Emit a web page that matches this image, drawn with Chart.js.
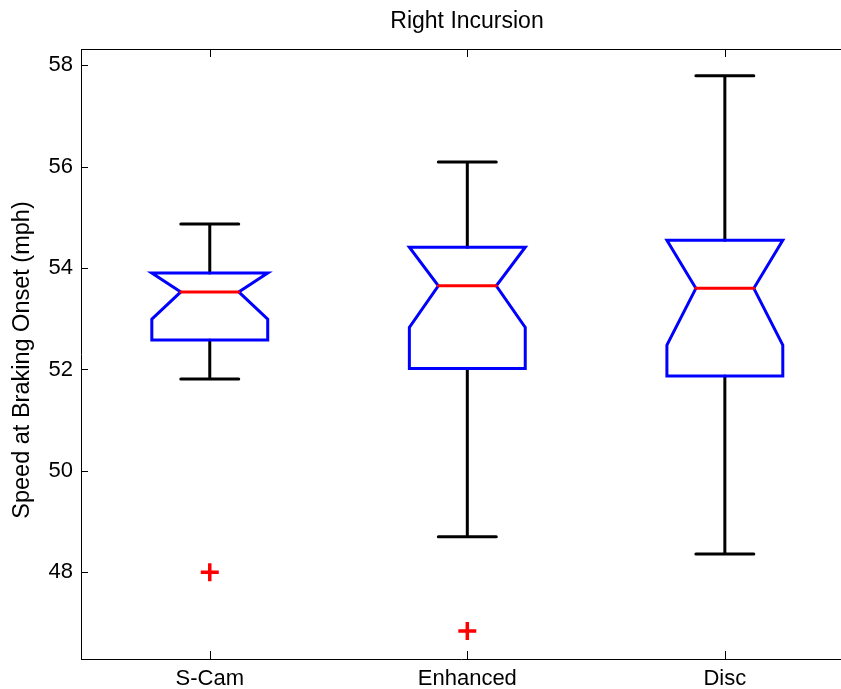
<!DOCTYPE html>
<html>
<head>
<meta charset="utf-8">
<script src="https://cdn.jsdelivr.net/npm/chart.js"></script>
<style>
  body { margin: 0; background: #fff; }
  canvas { display: block; }
</style>
</head>
<body>
<canvas id="mycanvas" width="841" height="689"></canvas>
<script>
// box plot values
var categories = ['S-Cam', 'Enhanced', 'Disc']
var lowerWhisker = [51.81, 48.70, 48.36]
var q1 = [52.58, 52.02, 51.87]
var medians = [53.53, 53.65, 53.60]
var q3 = [53.90, 54.41, 54.55]
var upperWhisker = [54.87, 56.09, 57.79]
var notchLow = [52.99, 52.83, 52.48]
var notchHigh = [53.90, 54.41, 54.55]
var outliers = [[48.0], [46.84], []]
var yTicks = [48, 50, 52, 54, 56, 58]

var FONT = "'Liberation Sans', Arial, sans-serif"

var outlierPoints = []
outliers.forEach(function(list, i) {
    list.forEach(function(v) { outlierPoints.push({x: i + 1, y: v}) })
})

var boxPlugin = {
    id: 'boxes',
    afterDatasetsDraw: function(chart) {
        var ctx = chart.ctx
        var xs = chart.scales.x
        var ys = chart.scales.y
        var boxHalf = 0.225, notchHalf = 0.1125, capHalf = 0.1125

        ctx.save()
        ctx.lineJoin = 'miter'
        ctx.lineCap = 'round'
        ctx.lineWidth = 3

        for (var i = 0; i < categories.length; i++) {
            var c = i + 1
            var L = xs.getPixelForValue(c - boxHalf)
            var R = xs.getPixelForValue(c + boxHalf)
            var NL = xs.getPixelForValue(c - notchHalf)
            var NR = xs.getPixelForValue(c + notchHalf)
            var CL = xs.getPixelForValue(c - capHalf)
            var CR = xs.getPixelForValue(c + capHalf)
            var mid = xs.getPixelForValue(c)

            // whiskers
            ctx.strokeStyle = '#000'
            ctx.beginPath()
            ctx.moveTo(mid, ys.getPixelForValue(q3[i]))
            ctx.lineTo(mid, ys.getPixelForValue(upperWhisker[i]))
            ctx.moveTo(mid, ys.getPixelForValue(q1[i]))
            ctx.lineTo(mid, ys.getPixelForValue(lowerWhisker[i]))
            ctx.moveTo(CL, ys.getPixelForValue(upperWhisker[i]))
            ctx.lineTo(CR, ys.getPixelForValue(upperWhisker[i]))
            ctx.moveTo(CL, ys.getPixelForValue(lowerWhisker[i]))
            ctx.lineTo(CR, ys.getPixelForValue(lowerWhisker[i]))
            ctx.stroke()

            // notched box
            ctx.strokeStyle = '#0000ff'
            ctx.beginPath()
            ctx.moveTo(L, ys.getPixelForValue(q1[i]))
            ctx.lineTo(L, ys.getPixelForValue(notchLow[i]))
            ctx.lineTo(NL, ys.getPixelForValue(medians[i]))
            ctx.lineTo(L, ys.getPixelForValue(notchHigh[i]))
            ctx.lineTo(L, ys.getPixelForValue(q3[i]))
            ctx.lineTo(R, ys.getPixelForValue(q3[i]))
            ctx.lineTo(R, ys.getPixelForValue(notchHigh[i]))
            ctx.lineTo(NR, ys.getPixelForValue(medians[i]))
            ctx.lineTo(R, ys.getPixelForValue(notchLow[i]))
            ctx.lineTo(R, ys.getPixelForValue(q1[i]))
            ctx.closePath()
            ctx.stroke()

            // median
            ctx.strokeStyle = '#ff0000'
            ctx.beginPath()
            ctx.moveTo(NL, ys.getPixelForValue(medians[i]))
            ctx.lineTo(NR, ys.getPixelForValue(medians[i]))
            ctx.stroke()
        }
        ctx.restore()
    },
    afterDraw: function(chart) {
        var ctx = chart.ctx
        var xs = chart.scales.x
        var ys = chart.scales.y
        var area = chart.chartArea

        ctx.save()
        // top border and inward ticks like matlab
        ctx.strokeStyle = '#000'
        ctx.lineWidth = 1
        ctx.beginPath()
        ctx.moveTo(area.left, area.top + 0.5)
        ctx.lineTo(chart.width, area.top + 0.5)
        yTicks.forEach(function(v) {
            var y = Math.round(ys.getPixelForValue(v)) + 0.5
            ctx.moveTo(area.left, y)
            ctx.lineTo(area.left + 7, y)
        })
        categories.forEach(function(cat, i) {
            var x = Math.round(xs.getPixelForValue(i + 1)) + 0.5
            ctx.moveTo(x, area.bottom)
            ctx.lineTo(x, area.bottom - 8)
            ctx.moveTo(x, area.top)
            ctx.lineTo(x, area.top + 8)
        })
        ctx.stroke()

        // title, centred on the full axes
        ctx.fillStyle = '#000'
        ctx.font = '23px ' + FONT
        ctx.textAlign = 'center'
        ctx.textBaseline = 'alphabetic'
        ctx.fillText('Right Incursion', 467, 28)

        // y axis label
        ctx.translate(29, 360)
        ctx.rotate(-Math.PI / 2)
        ctx.font = '23.5px ' + FONT
        ctx.fillText('Speed at Braking Onset (mph)', 0, 0)
        ctx.restore()
    }
}

var context = document.getElementById('mycanvas').getContext('2d')

var chart = new Chart(context, {
    type: 'scatter',
    data: {
        datasets: [{
            label: 'Outliers',
            data: outlierPoints,
            pointStyle: 'cross',
            pointRadius: 9,
            pointBorderWidth: 3.5,
            borderColor: '#ff0000',
            backgroundColor: '#ff0000'
        }]
    },
    options: {
        responsive: false,
        devicePixelRatio: 1,
        animation: false,
        layout: { autoPadding: false, padding: { top: 49, right: 0, left: 0, bottom: 0 } },
        plugins: {
            legend: { display: false },
            tooltip: { enabled: false },
            title: { display: false }
        },
        scales: {
            x: {
                type: 'linear',
                min: 0.5,
                max: 3.451,
                afterBuildTicks: function(scale) {
                    scale.ticks = categories.map(function(c, i) { return {value: i + 1} })
                },
                afterFit: function(scale) {
                    scale.height = 30
                    scale.paddingLeft = 0
                    scale.paddingRight = 0
                },
                grid: { display: false, drawTicks: false },
                border: { display: true, color: '#000', width: 1 },
                ticks: {
                    padding: 7,
                    color: '#000',
                    font: { family: FONT, size: 22 },
                    maxRotation: 0,
                    autoSkip: false,
                    callback: function(v) { return categories[v - 1] }
                }
            },
            y: {
                type: 'linear',
                min: 46.29,
                max: 58.32,
                afterBuildTicks: function(scale) {
                    scale.ticks = yTicks.map(function(v) { return {value: v} })
                },
                afterFit: function(scale) {
                    scale.width = 81
                    scale.paddingTop = 0
                    scale.paddingBottom = 0
                },
                grid: { display: false, drawTicks: false },
                border: { display: true, color: '#000', width: 1 },
                ticks: {
                    padding: 8,
                    color: '#000',
                    font: { family: FONT, size: 22 },
                    callback: function(v) { return v }
                }
            }
        }
    },
    plugins: [boxPlugin]
})
</script>
</body>
</html>
